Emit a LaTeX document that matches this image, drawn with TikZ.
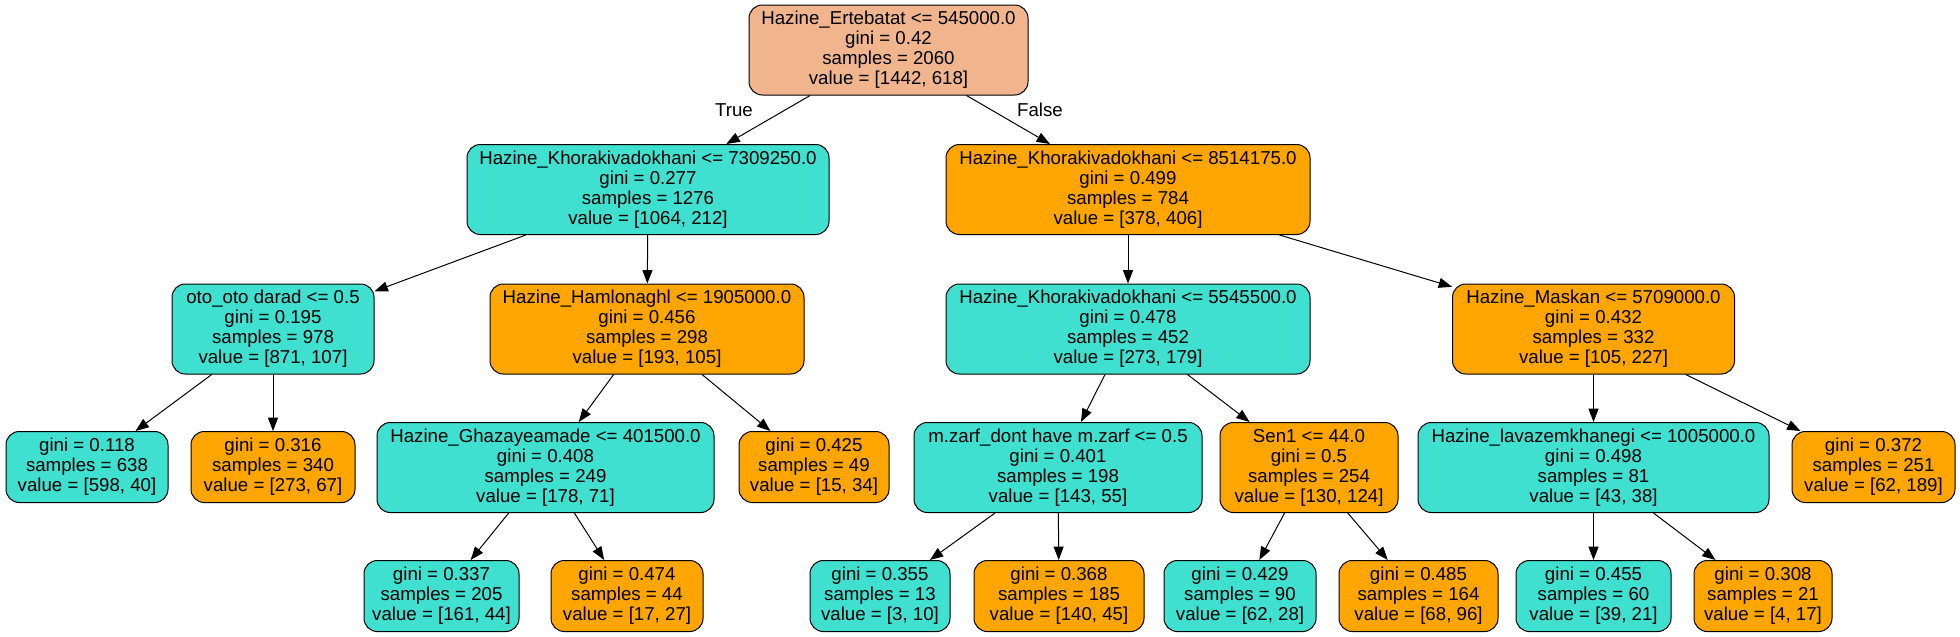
\documentclass[tikz,border=0pt]{standalone}
\usepackage{fontspec}
\setmainfont{Liberation Sans}
\usetikzlibrary{arrows.meta}
\definecolor{turq}{HTML}{40E0D0}
\definecolor{orng}{HTML}{FFA500}
\definecolor{salm}{HTML}{F1B58D}
\begin{document}
\begin{tikzpicture}[x=0.75pt,y=-0.75pt,
  tree/.style={draw=black, line width=0.75pt, rounded corners=10pt, align=center,
    inner sep=0pt, font=\fontsize{14}{15}\selectfont},
  hfour/.style={minimum height=67.5pt},
  hthree/.style={minimum height=53.25pt},
  w/.style={minimum width=#1*0.75pt},
  tq/.style={tree, fill=turq},
  og/.style={tree, fill=orng},
  rt/.style={tree, fill=salm},
  edge/.style={draw=black, line width=0.75pt, -{Triangle[length=10pt,width=7.5pt]}},
  lbl/.style={font=\fontsize{14}{15}\selectfont, inner sep=0pt}]
\useasboundingbox (0,0) rectangle (1960,636);
% level 0
\node[rt, hfour, w=279] (root) at (888.5,50) {Hazine\_Ertebatat <= 545000.0\\gini = 0.42\\samples = 2060\\value = [1442, 618]};
% level 1
\node[tq, hfour, w=362] (A) at (648,189.5) {Hazine\_Khorakivadokhani <= 7309250.0\\gini = 0.277\\samples = 1276\\value = [1064, 212]};
\node[og, hfour, w=364] (B) at (1128,189.5) {Hazine\_Khorakivadokhani <= 8514175.0\\gini = 0.499\\samples = 784\\value = [378, 406]};
% level 2
\node[tq, hfour, w=202] (oto) at (273,329) {oto\_oto darad <= 0.5\\gini = 0.195\\samples = 978\\value = [871, 107]};
\node[og, hfour, w=314] (ham) at (647,329) {Hazine\_Hamlonaghl <= 1905000.0\\gini = 0.456\\samples = 298\\value = [193, 105]};
\node[tq, hfour, w=364] (kh) at (1128,329) {Hazine\_Khorakivadokhani <= 5545500.0\\gini = 0.478\\samples = 452\\value = [273, 179]};
\node[og, hfour, w=282] (mas) at (1593.5,329) {Hazine\_Maskan <= 5709000.0\\gini = 0.432\\samples = 332\\value = [105, 227]};
% level 3
\node[tq, hthree, w=162] (l118) at (87,467) {gini = 0.118\\samples = 638\\value = [598, 40]};
\node[og, hthree, w=164] (l316) at (273,467) {gini = 0.316\\samples = 340\\value = [273, 67]};
\node[tq, hfour, w=337] (gha) at (545.5,467.5) {Hazine\_Ghazayeamade <= 401500.0\\gini = 0.408\\samples = 249\\value = [178, 71]};
\node[og, hthree, w=150] (l425) at (814,467) {gini = 0.425\\samples = 49\\value = [15, 34]};
\node[tq, hfour, w=288] (mz) at (1058,467.5) {m.zarf\_dont have m.zarf <= 0.5\\gini = 0.401\\samples = 198\\value = [143, 55]};
\node[og, hfour, w=178] (sen) at (1309,467.5) {Sen1 <= 44.0\\gini = 0.5\\samples = 254\\value = [130, 124]};
\node[tq, hfour, w=351] (lav) at (1593.5,467.5) {Hazine\_lavazemkhanegi <= 1005000.0\\gini = 0.498\\samples = 81\\value = [43, 38]};
\node[og, hthree, w=163] (l372) at (1873.5,467) {gini = 0.372\\samples = 251\\value = [62, 189]};
% level 4
\node[tq, hthree, w=155] (l337) at (441.5,596) {gini = 0.337\\samples = 205\\value = [161, 44]};
\node[og, hthree, w=152] (l474) at (627,596) {gini = 0.474\\samples = 44\\value = [17, 27]};
\node[tq, hthree, w=140] (l355) at (880,596) {gini = 0.355\\samples = 13\\value = [3, 10]};
\node[og, hthree, w=170] (l368) at (1059,596) {gini = 0.368\\samples = 185\\value = [140, 45]};
\node[tq, hthree, w=152] (l429) at (1240,596) {gini = 0.429\\samples = 90\\value = [62, 28]};
\node[og, hthree, w=159] (l485) at (1418.5,596) {gini = 0.485\\samples = 164\\value = [68, 96]};
\node[tq, hthree, w=155] (l455) at (1593.5,596) {gini = 0.455\\samples = 60\\value = [39, 21]};
\node[og, hthree, w=138] (l308) at (1763,596) {gini = 0.308\\samples = 21\\value = [4, 17]};
% edges
\draw[edge] (root) -- (A);
\draw[edge] (root) -- (B);
\node[lbl] (tlab) at (734,110) {True};
\node[lbl] (flab) at (1040,110) {False};
\draw[edge] (A) -- (oto);
\draw[edge] (A) -- (ham);
\draw[edge] (B) -- (kh);
\draw[edge] (B) -- (mas);
\draw[edge] (oto) -- (l118);
\draw[edge] (oto) -- (l316);
\draw[edge] (ham) -- (gha);
\draw[edge] (ham) -- (l425);
\draw[edge] (kh) -- (mz);
\draw[edge] (kh) -- (sen);
\draw[edge] (mas) -- (lav);
\draw[edge] (mas) -- (l372);
\draw[edge] (gha) -- (l337);
\draw[edge] (gha) -- (l474);
\draw[edge] (mz) -- (l355);
\draw[edge] (mz) -- (l368);
\draw[edge] (sen) -- (l429);
\draw[edge] (sen) -- (l485);
\draw[edge] (lav) -- (l455);
\draw[edge] (lav) -- (l308);
\end{tikzpicture}
\end{document}
